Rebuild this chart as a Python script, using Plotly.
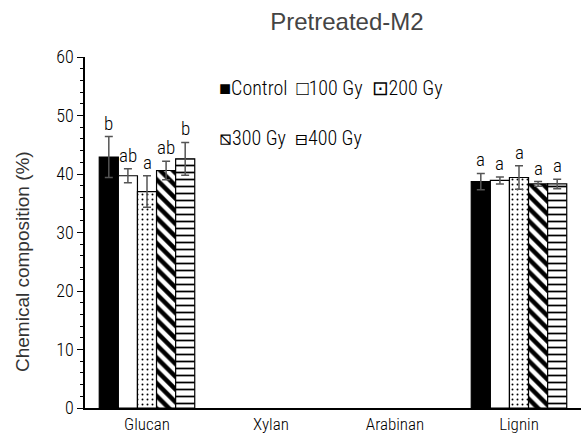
import plotly.graph_objects as go

categories = ["Glucan", "Xylan", "Arabinan", "Lignin"]
series_names = ["Control", "100 Gy", "200 Gy", "300 Gy", "400 Gy"]
legend_glyphs = ["■", "□", "⊡", "⧅", "⊟"]
control = [42.9, None, None, 38.7]
gy100 = [39.7, None, None, 38.9]
gy200 = [37.0, None, None, 39.4]
gy300 = [40.6, None, None, 38.3]
gy400 = [42.6, None, None, 38.3]
control_err = [3.5, None, None, 1.4]
gy100_err = [1.2, None, None, 0.6]
gy200_err = [2.7, None, None, 2.0]
gy300_err = [1.6, None, None, 0.4]
gy400_err = [2.8, None, None, 0.8]
control_lbl = ["b", "", "", "a"]
gy100_lbl = ["ab", "", "", "a"]
gy200_lbl = ["a", "", "", "a"]
gy300_lbl = ["ab", "", "", "a"]
gy400_lbl = ["b", "", "", "a"]

values = [control, gy100, gy200, gy300, gy400]
errors = [control_err, gy100_err, gy200_err, gy300_err, gy400_err]
labels = [control_lbl, gy100_lbl, gy200_lbl, gy300_lbl, gy400_lbl]

FONT = "Roboto Condensed, Liberation Sans Narrow, sans-serif"
FONT_W = "Liberation Sans, Arial, sans-serif"

styles = [
    dict(color="black", pattern=dict(shape="")),
    dict(color="white", pattern=dict(shape="")),
    dict(color="white", pattern=dict(shape=".", size=5, solidity=0.12, fgcolor="black", bgcolor="white", fillmode="replace")),
    dict(color="white", pattern=dict(shape="\\", size=9, solidity=0.5, fgcolor="black", bgcolor="white", fillmode="replace")),
    dict(color="white", pattern=dict(shape="-", size=7, solidity=0.25, fgcolor="black", bgcolor="white", fillmode="replace")),
]

fig = go.Figure()
for i, name in enumerate(series_names):
    fig.add_trace(go.Bar(
        x=categories, y=values[i], name=name,
        marker=dict(line=dict(color="black", width=1.2), **styles[i]),
        error_y=dict(type="data", array=errors[i], color="#555555", thickness=1.5, width=4),
        showlegend=False,
    ))

bargap = 0.23
nser = len(series_names)
w = (1 - bargap) / nser
annotations = []
for i in range(nser):
    for k, cat in enumerate(categories):
        if values[i][k] is None:
            continue
        annotations.append(dict(
            x=k + (i - (nser - 1) / 2) * w, y=values[i][k] + errors[i][k],
            xref="x", yref="y", text=labels[i][k], showarrow=False,
            yanchor="bottom", yshift=0, font=dict(family=FONT, size=19, color="black", weight=300),
        ))

# legend text rows (glyph + series name), as in the reference
SEP = "\u00a0\u00a0"
row1 = SEP.join(legend_glyphs[i] + series_names[i] for i in range(3))
row2 = SEP.join(legend_glyphs[i] + series_names[i] for i in range(3, 5))
for row, ypix in ((row1, 88), (row2, 138)):
    annotations.append(dict(x=(217 - 85) / 496, y=(408 - ypix) / 351, xref="paper", yref="paper",
                            xanchor="left", yanchor="middle", text=row, showarrow=False,
                            font=dict(family=FONT, size=20, color="black", weight=300)))
# y-axis title
annotations.append(dict(x=(22 - 85) / 496, y=(408 - 262) / 351, xref="paper", yref="paper",
                        xanchor="center", yanchor="middle", text="Chemical composition (%)",
                        textangle=-90, showarrow=False,
                        font=dict(family=FONT_W, size=19, color="#333333")))

fig.update_layout(
    width=583, height=441,
    margin=dict(l=85, r=2, t=57, b=33),
    paper_bgcolor="white", plot_bgcolor="white",
    barmode="group", bargap=bargap, bargroupgap=0,
    showlegend=False,
    font=dict(family=FONT, size=17, color="black", weight=300),
    title=dict(text="Pretreated-M2", x=0.595, xanchor="center", y=0.95, yanchor="middle",
               font=dict(family=FONT_W, size=24, color="#444444")),
    xaxis=dict(type="category", showline=True, linecolor="black", linewidth=1.5,
               ticks="", tickfont=dict(size=17, weight=300), showgrid=False, range=[-0.5, 3.5]),
    yaxis=dict(range=[0, 60], dtick=10, showline=True, linecolor="black", linewidth=1.5,
               ticks="outside", ticklen=6, tickcolor="black", showgrid=False, zeroline=False,
               minor=dict(dtick=2, ticks="outside", ticklen=3, tickcolor="black"),
               tickfont=dict(size=18, weight=300)),
    annotations=annotations,
)

fig.write_html("out.html")
